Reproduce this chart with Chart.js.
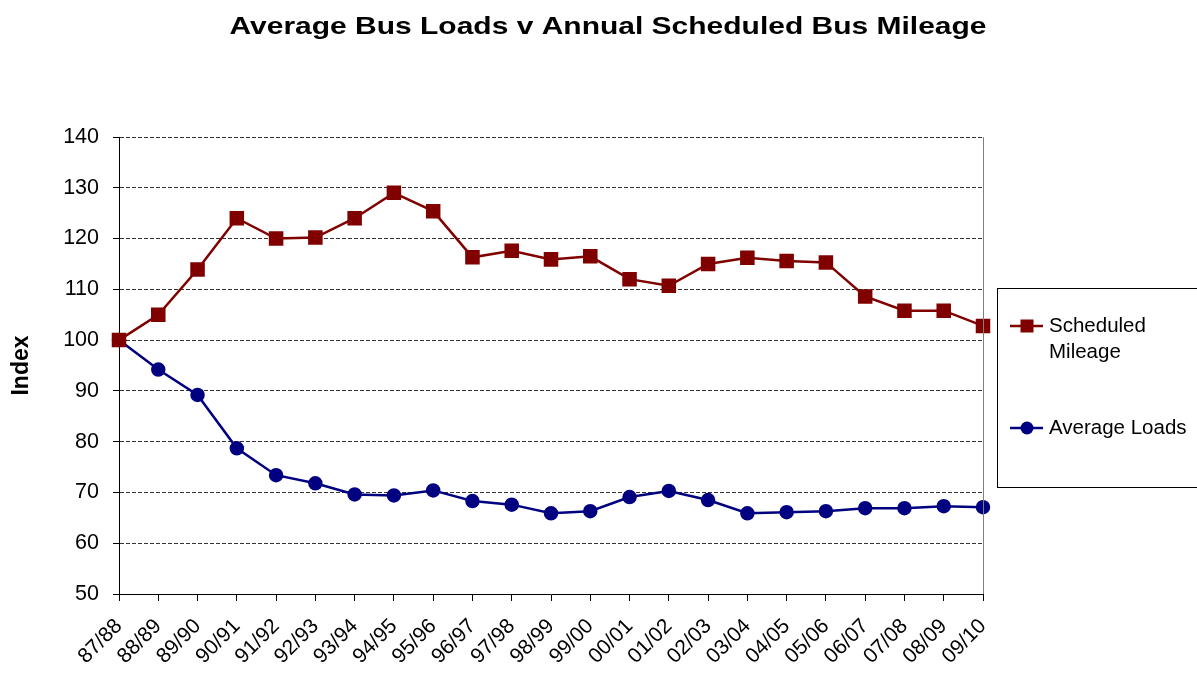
<!DOCTYPE html>
<html>
<head>
<meta charset="utf-8">
<script src="https://cdn.jsdelivr.net/npm/chart.js@4"></script>
<style>
  html, body { margin: 0; padding: 0; background: #fff; }
  #wrap { width: 1197px; height: 675px; }
</style>
</head>
<body>
<div id="wrap"><canvas id="busChart" width="1197" height="675"></canvas></div>
<script>
const years = ["87/88", "88/89", "89/90", "90/91", "91/92", "92/93", "93/94", "94/95", "95/96", "96/97", "97/98", "98/99",
    "99/00", "00/01", "01/02", "02/03", "03/04", "04/05", "05/06", "06/07", "07/08", "08/09", "09/10"];
const scheduledMileage = [100, 105, 113.9, 124, 120, 120.2, 124, 129, 125.4, 116.3, 117.6, 115.9,
    116.5, 112, 110.7, 115, 116.2, 115.6, 115.3, 108.6, 105.8, 105.8, 102.8];
const averageLoads = [100, 94.2, 89.2, 78.7, 73.4, 71.8, 69.6, 69.4, 70.4, 68.3, 67.6, 65.9,
    66.3, 69.1, 70.3, 68.5, 65.9, 66.1, 66.3, 66.9, 66.9, 67.3, 67.1];
const seriesNames = [["Scheduled", "Mileage"], ["Average Loads"]];
const chartTitle = "Average Bus Loads v Annual Scheduled Bus Mileage";

const red = "#800000";
const blue = "#000080";
const fontFam = "Arial, 'Liberation Sans', sans-serif";

// title, grey right edge and the boxed legend, drawn on the canvas
const extras = {
    id: "extras",
    afterDraw(chart) {
        const ctx = chart.ctx;
        const area = chart.chartArea;
        ctx.save();
        ctx.fillStyle = "#000";
        ctx.font = "bold 24px " + fontFam;
        ctx.textAlign = "center";
        ctx.textBaseline = "middle";
        // the original title is drawn wide, so stretch it to its width
        const sx = 757 / ctx.measureText(chartTitle).width;
        ctx.translate(608, 27);
        ctx.scale(sx, 1);
        ctx.fillText(chartTitle, 0, 0);
        ctx.setTransform(1, 0, 0, 1, 0, 0);

        ctx.strokeStyle = "#808080";
        ctx.lineWidth = 1;
        ctx.beginPath();
        ctx.moveTo(Math.round(area.right) + 0.5, area.top);
        ctx.lineTo(Math.round(area.right) + 0.5, area.bottom);
        ctx.stroke();

        ctx.strokeStyle = "#000";
        ctx.strokeRect(997.5, 288.5, 210, 199);
        const rows = [326, 428];
        ctx.font = "20.5px " + fontFam;
        ctx.textAlign = "left";
        chart.data.datasets.forEach((ds, i) => {
            const y = rows[i];
            ctx.strokeStyle = ds.borderColor;
            ctx.lineWidth = 2.5;
            ctx.beginPath();
            ctx.moveTo(1010, y);
            ctx.lineTo(1043, y);
            ctx.stroke();
            ctx.fillStyle = ds.borderColor;
            if (ds.pointStyle === "rect") {
                ctx.fillRect(1020.5, y - 6.5, 13, 13);
            } else {
                ctx.beginPath();
                ctx.arc(1027, y, 6.5, 0, Math.PI * 2);
                ctx.fill();
            }
            ctx.fillStyle = "#000";
            const lines = Array.isArray(ds.label) ? ds.label : [ds.label];
            lines.forEach((t, j) => ctx.fillText(t, 1049, y + j * 26));
        });
        ctx.restore();
    }
};

const ctxBus = document.getElementById("busChart").getContext("2d");
new Chart(ctxBus, {
    type: "line",
    data: {
        labels: years,
        datasets: [{
            label: seriesNames[0],
            data: scheduledMileage,
            borderColor: red,
            backgroundColor: red,
            borderWidth: 2.5,
            pointStyle: "rect",
            pointRadius: 8.5,
            pointHoverRadius: 8.5,
            fill: false,
            tension: 0
        }, {
            label: seriesNames[1],
            data: averageLoads,
            borderColor: blue,
            backgroundColor: blue,
            borderWidth: 2.5,
            pointStyle: "circle",
            pointRadius: 6,
            pointHoverRadius: 6,
            fill: false,
            tension: 0
        }]
    },
    options: {
        responsive: false,
        animation: false,
        layout: { padding: { left: 0, right: 214, top: 137, bottom: 0 } },
        plugins: {
            legend: { display: false },
            tooltip: { enabled: false },
            title: { display: false }
        },
        scales: {
            x: {
                offset: false,
                afterFit: (scale) => { scale.height = 81; },
                grid: { display: true, drawOnChartArea: false, drawTicks: true, tickLength: 7, color: "#000" },
                border: { display: true, color: "#000", width: 1 },
                ticks: {
                    color: "#000",
                    maxRotation: 45,
                    minRotation: 45,
                    autoSkip: false,
                    padding: 13,
                    font: { family: fontFam, size: 21 }
                }
            },
            y: {
                min: 50,
                max: 140,
                afterFit: (scale) => { scale.width = 119; },
                ticks: {
                    stepSize: 10,
                    color: "#000",
                    padding: 14,
                    font: { family: fontFam, size: 21.5 }
                },
                grid: { color: "#333", lineWidth: 1, tickLength: 6, tickBorderDash: [], tickColor: "#000", drawTicks: true },
                border: { display: true, color: "#000", width: 1, dash: [4, 2] },
                title: {
                    display: true,
                    text: "Index",
                    color: "#000",
                    padding: { top: 8, bottom: 0 },
                    font: { family: fontFam, size: 23, weight: "bold" }
                }
            }
        }
    },
    plugins: [extras]
});
</script>
</body>
</html>
